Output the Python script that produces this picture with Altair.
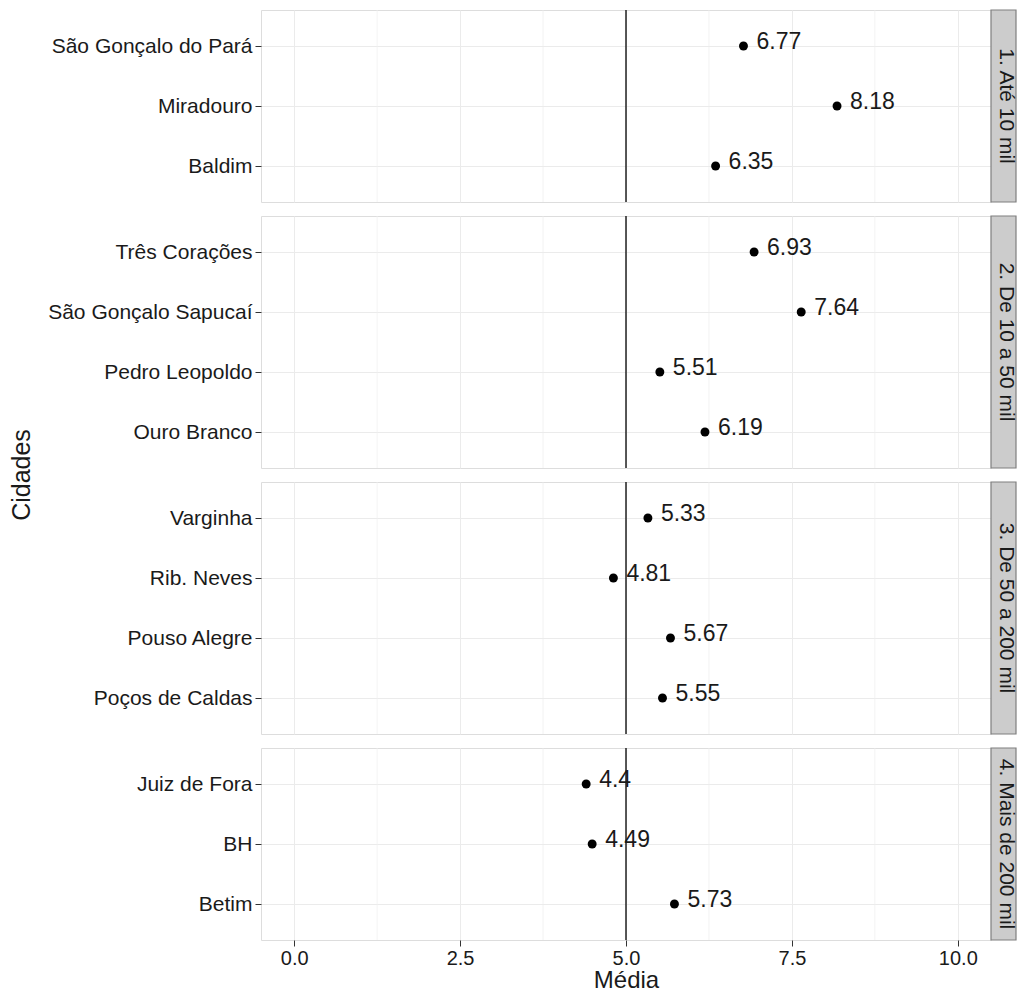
import altair as alt
import pandas as pd

# ---- data ----
grupos = ["1. Até 10 mil", "2. De 10 a 50 mil", "3. De 50 a 200 mil", "4. Mais de 200 mil"]
cidades = [
    ["São Gonçalo do Pará", "Miradouro", "Baldim"],
    ["Três Corações", "São Gonçalo Sapucaí", "Pedro Leopoldo", "Ouro Branco"],
    ["Varginha", "Rib. Neves", "Pouso Alegre", "Poços de Caldas"],
    ["Juiz de Fora", "BH", "Betim"],
]
medias = [
    [6.77, 8.18, 6.35],
    [6.93, 7.64, 5.51, 6.19],
    [5.33, 4.81, 5.67, 5.55],
    [4.40, 4.49, 5.73],
]
major_ticks = [0, 2.5, 5, 7.5, 10]
minor_ticks = [1.25, 3.75, 6.25, 8.75]
ref_line = [5]
x_domain = [-0.5, 10.5]

W = 730
STEP = 60
STRIP_W = 25
FONT = "Liberation Sans"
TXT = "#1a1a1a"


def panel(i):
    g = grupos[i]
    df = pd.DataFrame({
        "cidade": cidades[i],
        "media": medias[i],
        "rotulo": [f"{v:g}" for v in medias[i]],
    })
    n = len(cidades[i])
    H = int(round((n - 1 + 1.2) * STEP))
    last = i == len(grupos) - 1

    if last:
        xaxis = alt.Axis(values=major_ticks, format=".1f", title="Média", grid=True,
                         gridColor="#ebebeb", gridWidth=1, domain=False,
                         tickSize=6, tickColor="#333333", labelFontSize=20,
                         labelColor=TXT, labelPadding=2, titleFontSize=24,
                         titleFontWeight="normal", titleColor=TXT, titlePadding=0,
                         labelFont=FONT, titleFont=FONT)
    else:
        xaxis = alt.Axis(values=major_ticks, title=None, grid=True, gridColor="#ebebeb",
                         gridWidth=1, domain=False, ticks=False, labels=False)
    x_enc = alt.X("media:Q", scale=alt.Scale(domain=x_domain, nice=False, zero=False),
                  axis=xaxis)
    y_enc = alt.Y("cidade:N", sort=cidades[i],
                  scale=alt.Scale(type="point", padding=0.6),
                  axis=alt.Axis(title=None, grid=True, gridColor="#ebebeb", gridWidth=1,
                                domain=False, tickSize=6, tickColor="#333333",
                                labelFontSize=21, labelColor=TXT, labelPadding=3,
                                labelLimit=400, labelFont=FONT))

    minor = alt.Chart(pd.DataFrame({"media": minor_ticks})).mark_rule(
        color="#eeeeee", strokeWidth=0.7).encode(x=x_enc)
    vline = alt.Chart(pd.DataFrame({"media": ref_line})).mark_rule(
        color="black", strokeWidth=1.3).encode(x=x_enc)
    pts = alt.Chart(df).mark_point(filled=True, color="black", size=80, opacity=1).encode(
        x=x_enc, y=y_enc)
    lbl = alt.Chart(df).mark_text(align="left", baseline="middle", dx=13, dy=-4,
                                  fontSize=23, font=FONT, color=TXT).encode(
        x=x_enc, y=y_enc, text="rotulo:N")

    sdf = pd.DataFrame({"grupo": [g]})
    strip_rect = alt.Chart(sdf).mark_rect(fill="#cccccc", stroke="#7f7f7f",
                                          strokeWidth=1.2).encode(
        x=alt.value(W), x2=alt.value(W + STRIP_W), y=alt.value(0), y2=alt.value(H))
    strip_txt = alt.Chart(sdf).mark_text(angle=90, align="center", baseline="middle",
                                         fontSize=21, font=FONT, color=TXT).encode(
        x=alt.value(W + 15), y=alt.value(H / 2), text="grupo:N")

    layers = [minor, vline, pts, lbl, strip_rect, strip_txt]
    if i == 1:
        tdf = pd.DataFrame({"t": ["Cidades"]})
        title_txt = alt.Chart(tdf).mark_text(angle=270, align="center", baseline="middle",
                                             fontSize=25, font=FONT, color=TXT).encode(
            x=alt.value(-239), y=alt.value(H + 7), text="t:N")
        layers.append(title_txt)
    return alt.layer(*layers).properties(width=W, height=H)


chart = alt.vconcat(*[panel(i) for i in range(len(grupos))], spacing=14,
                    bounds="flush").properties(
    padding={"left": 1, "top": 0, "right": 0, "bottom": -4}
).configure_view(stroke="#7f7f7f", strokeWidth=1.2).configure(background="white")

chart.save("out.html", embed_options={"renderer": "svg", "actions": False})
